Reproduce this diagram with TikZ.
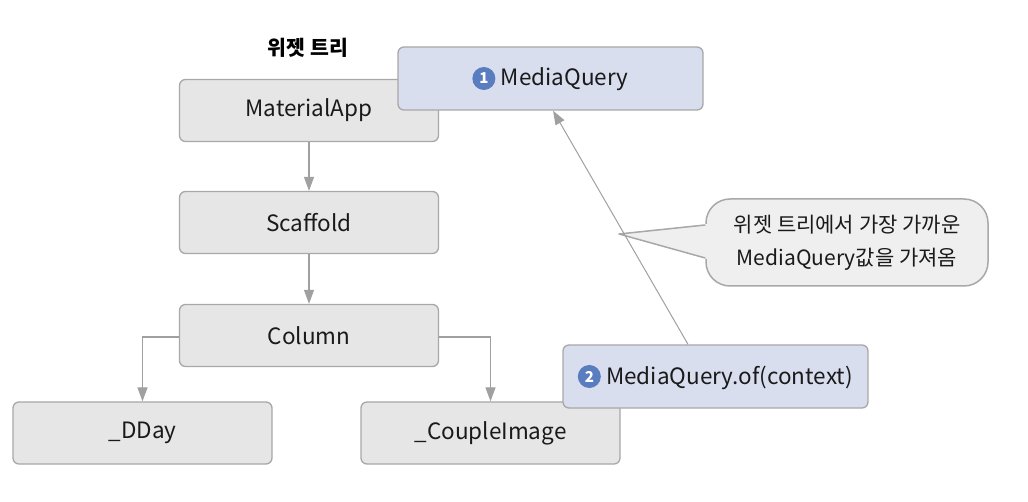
\documentclass[tikz,border=0pt]{standalone}
\usepackage{fontspec}
\setmainfont{Noto Sans CJK KR}
\usetikzlibrary{arrows.meta,positioning,calc}
\definecolor{boxfill}{HTML}{E6E6E6}
\definecolor{boxline}{HTML}{A8A8A8}
\definecolor{bluefill}{HTML}{D9DEEF}
\definecolor{badgefill}{HTML}{5A7DBF}
\definecolor{arrowgray}{HTML}{A0A0A0}
\definecolor{callfill}{HTML}{EFEFEF}
\definecolor{txt}{HTML}{1A1A1A}
\begin{document}
\begin{tikzpicture}[x=1pt,y=-1pt,
  wbox/.style={draw=boxline, fill=boxfill, rounded corners=6pt, minimum width=259pt, minimum height=62pt, line width=1.3pt, text=txt, font=\fontsize{22.5}{26}\selectfont},
  qbox/.style={wbox, fill=bluefill, minimum width=305pt, minimum height=63pt},
  lbl/.style={inner sep=0pt, text=txt, font=\fontsize{22.5}{26}\selectfont},
  badge/.style={circle, fill=badgefill, text=white, inner sep=0pt, minimum size=23pt, font=\bfseries\fontsize{15}{15}\selectfont},
  arr/.style={draw=arrowgray, line width=1.3pt, -{Triangle[length=14pt,width=10pt]}, arrowgray},
]
\useasboundingbox (0,0) rectangle (1028,502);
\node[font=\bfseries\fontsize{20.5}{24}\selectfont, text=black] (title) at (308,48) {위젯 트리};
\node[wbox] (app) at (309,110.5) {MaterialApp};
\node[qbox] (mq) at (550.5,78.5) {};
\node[lbl] (mqt) at (564.5,79.5) {MediaQuery};
\node[badge, left=5pt of mqt.west |- mq.center] (b1) {1};
\node[wbox] (scaf) at (309,222.5) {Scaffold};
\node[wbox] (col) at (309,335.5) {Column};
\node[wbox] (dday) at (142.5,433) {\_DDay};
\node[wbox] (cimg) at (490.5,433) {\_CoupleImage};
\node[qbox] (mqof) at (715.5,376.5) {};
\node[lbl] (mqoft) at (729.5,377.5) {MediaQuery.of(context)};
\node[badge, left=5pt of mqoft.west |- mqof.center] (b2) {2};
% callout
\node[draw=boxline, fill=callfill, rounded corners=24pt, line width=1.5pt, minimum width=282pt, minimum height=87pt, align=center, text=txt, font=\fontsize{21}{33}\selectfont] (call) at (847,242.5) {위젯 트리에서 가장 가까운\\MediaQuery값을 가져옴};
\coordinate (tip) at (619,234);
\coordinate (pa) at (call.west |- 0,225);
\coordinate (pb) at (call.west |- 0,258);
\fill[callfill] ($(pa)+(2,-1)$) -- (tip) -- ($(pb)+(2,1)$) -- cycle;
\draw[boxline, line width=1.5pt, line join=round] (pa) -- (tip) -- (pb);
% arrows
\draw[arr] (app.south) -- (scaf.north);
\draw[arr] (scaf.south) -- (col.north);
\draw[arr] (col.west |- 0,337) -| (dday.north);
\draw[arr] (col.east |- 0,337) -| (cimg.north);
\coordinate (qs) at (mqof.north -| 688,0);
\coordinate (qe) at (mq.south -| 553,0);
\draw[arr, line width=1pt] (qs) -- (qe);
\end{tikzpicture}
\end{document}
